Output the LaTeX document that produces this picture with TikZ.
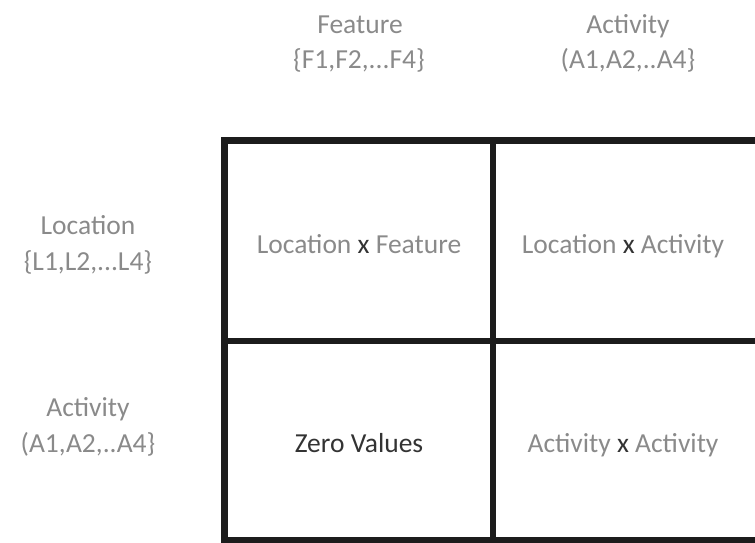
\documentclass[tikz,border=0pt]{standalone}
\usepackage{fontspec}
\setmainfont{Carlito}
\definecolor{lbl}{HTML}{8A8A8A}
\definecolor{dark}{HTML}{333333}
\definecolor{linec}{HTML}{1C1C1C}
\begin{document}
\begin{tikzpicture}[x=1pt,y=-1pt,
  lab/.style={anchor=base,inner sep=0pt,text=lbl,font=\fontsize{27.5}{33}\selectfont},
  dk/.style={anchor=base,inner sep=0pt,text=dark,font=\fontsize{27.5}{33}\selectfont},
  outer/.style={draw=linec,line width=7pt},
  inner/.style={draw=linec,line width=5.8pt}]
\useasboundingbox (0,0) rectangle (755,542);
\clip (0,0) rectangle (755,542);
% grid
\draw[outer] (224,140.5) rectangle (800,540);
\draw[inner] (493,140.5) -- (493,540);
\draw[inner] (224,340.7) -- (800,340.7);
% column headers
\node[lab] (feat1) at (360,33) {Feature};
\node[lab] (feat2) at (359,68.5) {\{F1,F2,...F4\}};
\node[lab] (act1) at (628,33) {Activity};
\node[lab] (act2) at (628,68.5) {(A1,A2,..A4\}};
% row headers
\node[lab] (loc1) at (88,234) {Location};
\node[lab] (loc2) at (88,270) {\{L1,L2,...L4\}};
\node[lab] (ract1) at (88,416) {Activity};
\node[lab] (ract2) at (88,452) {(A1,A2,..A4\}};
% cells
\node[lab] (c11) at (359,253) {Location \textcolor{dark}{x} Feature};
\node[lab] (c12) at (623,253) {Location \textcolor{dark}{x} Activity};
\node[dk]  (c21) at (359,452) {Zero Values};
\node[lab] (c22) at (623,452) {Activity \textcolor{dark}{x} Activity};
\end{tikzpicture}
\end{document}
